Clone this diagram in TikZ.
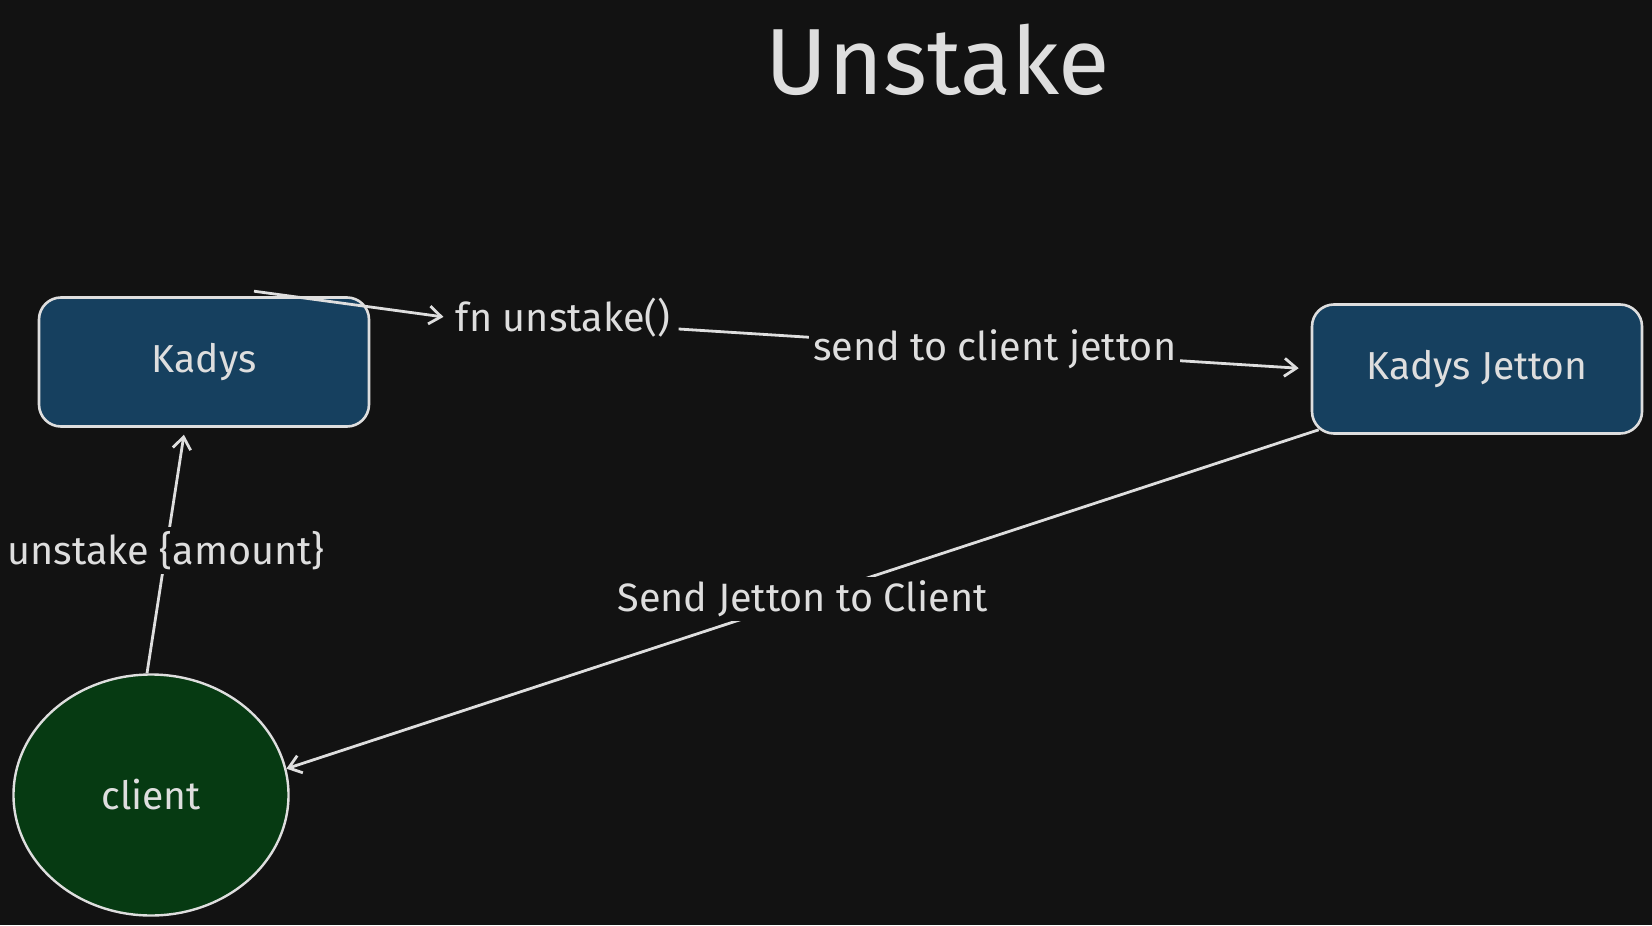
\documentclass[tikz,border=0pt]{standalone}
\usepackage{fontspec}
\setmainfont{Fira Sans}
\usetikzlibrary{arrows.meta,shapes.geometric}

\definecolor{bgdark}{HTML}{121212}
\definecolor{inkgray}{HTML}{DEDEDE}
\definecolor{boxblue}{HTML}{16405F}
\definecolor{clientgreen}{HTML}{063A12}

\tikzset{
  box/.style={draw=inkgray, fill=boxblue, line width=1.3pt, rounded corners=11pt,
    minimum width=165pt, minimum height=64.5pt, text=inkgray,
    font=\fontsize{19.5}{22}\selectfont},
  userball/.style={ellipse, draw=inkgray, fill=clientgreen, line width=1.2pt,
    minimum width=137.5pt, minimum height=120.5pt, inner sep=0pt, text=inkgray,
    font=\fontsize{19.5}{22}\selectfont},
  lbl/.style={fill=bgdark, text=inkgray, inner sep=2pt, font=\fontsize{19.8}{22}\selectfont},
  flow/.style={draw=inkgray, line width=1.4pt, -{Straight Barb[length=6pt,width=9pt,line width=1.4pt]}}
}

\begin{document}
\begin{tikzpicture}[x=0.5pt,y=-0.5pt]
        \fill[bgdark] (0,0) rectangle (1652,925);
        \useasboundingbox (0,0) rectangle (1652,925);

        \node[text=inkgray, font=\fontsize{47}{52}\selectfont] (title) at (938,60) {Unstake};

        \node[box] (kadys) at (204,362) {Kadys};
        \node[box] (jetton) at (1477,369) {Kadys Jetton};
        \node[userball] (client) at (151,795) {client};
        \node[lbl] (fn) at (563,318) {fn unstake()};

        \draw[flow, shorten >=4pt] ([xshift=25pt,yshift=2.5pt]kadys.north) -- (fn.west);
        \draw[flow, shorten >=6pt] ([xshift=2pt,yshift=-5.5pt]fn.east) -- (jetton.west)
            node[lbl, pos=0.5] {send to client jetton};
        \draw[flow, shorten >=3.5pt] ([xshift=-2pt]client.north) -- ([xshift=-9.5pt]kadys.south)
            node[lbl, pos=0.5] {unstake \{amount\}};
        \draw[flow] ([xshift=4pt,yshift=2.5pt]jetton.south west) -- (client.11)
            node[lbl, pos=0.5] {Send Jetton to Client};
\end{tikzpicture}
\end{document}
